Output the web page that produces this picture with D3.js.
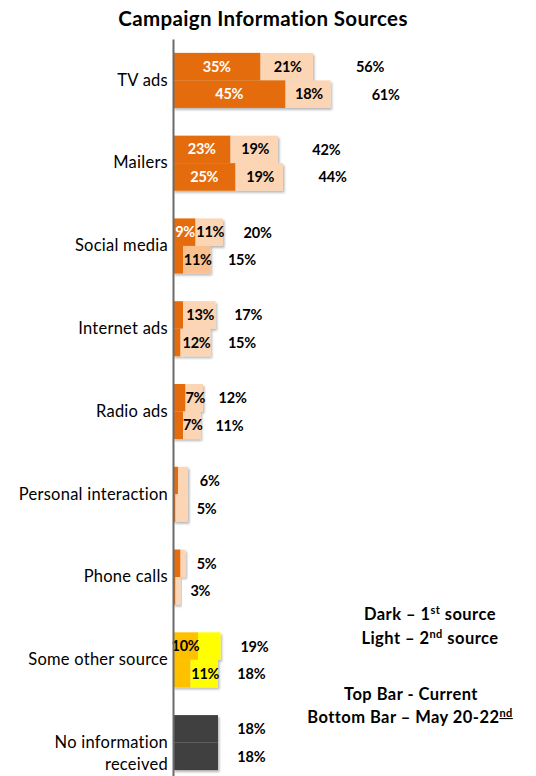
<!DOCTYPE html>
<html>
<head>
<meta charset="utf-8">
<script src="https://cdn.jsdelivr.net/npm/d3@7"></script>
<style>
  html, body { margin: 0; padding: 0; background: #fff; }
  svg { display: block; font-family: Lato, "Open Sans", sans-serif; }
</style>
</head>
<body>
<svg id="chart" width="536" height="776"></svg>
<script>
// ---------------- data ----------------
const categories = ["TV ads", "Mailers", "Social media", "Internet ads", "Radio ads",
  "Personal interaction", "Phone calls", "Some other source", "No information\nreceived"];
// Current (top bar)
const currentFirst  = [35, 23, 9, 4, 5, 2, 3, 10, 18];
const currentSecond = [21, 19, 11, 13, 7, 4, 2, 9, 0];
const currentTotal  = [56, 42, 20, 17, 12, 6, 5, 19, 18];
// May 20-22 (bottom bar)
const prevFirst  = [45, 25, 4, 3, 4, 1, 1, 7, 18];
const prevSecond = [18, 19, 11, 12, 7, 5, 2, 11, 0];
const prevTotal  = [61, 44, 15, 15, 11, 5, 3, 18, 18];
// which segment labels are shown in the picture (null = none)
const currentFirstLabel  = ["35%", "23%", "9%", null, null, null, null, "10%", null];
const currentSecondLabel = ["21%", "19%", "11%", "13%", "7%", null, null, null, null];
const prevFirstLabel  = ["45%", "25%", null, null, null, null, null, null, null];
const prevSecondLabel = ["18%", "19%", "11%", "12%", "7%", null, null, "11%", null];
const periods = ["Current", "May 20-22"];

// ---------------- styles ----------------
const darkColor = c => c === "Some other source" ? "#FFC000" : (c.startsWith("No information") ? "#404040" : "#E46C0A");
const lightColor = (c, p) => c === "Some other source" ? "#FFFF00" :
  (c === "Social media" && p === "May 20-22" ? "#FBC08F" : "#FCD5B5");
const darkTextColor = c => c === "Some other source" ? "#000" : "#fff";

const svg = d3.select("#chart");
const defs = svg.append("defs");
const f = defs.append("filter").attr("id", "shadow").attr("x", "-10%").attr("y", "-10%").attr("width", "130%").attr("height", "140%");
f.append("feDropShadow").attr("dx", 1.5).attr("dy", 2).attr("stdDeviation", 1.2).attr("flood-color", "#000").attr("flood-opacity", 0.28);

const x = d3.scaleLinear().domain([0, 100]).range([173, 423]);
const y = d3.scaleBand().domain(categories).range([39, 784]).paddingInner(0.335).paddingOuter(0.1675);
const y1 = d3.scaleBand().domain(periods).range([0, y.bandwidth()]);

// title
svg.append("text").attr("x", 263).attr("y", 26).attr("text-anchor", "middle")
  .attr("font-weight", "bold").attr("font-size", 20.5).attr("letter-spacing", 0.35).attr("fill", "#000")
  .text("Campaign Information Sources");

// rows
const rows = categories.map((c, i) => [
  { c, p: periods[0], a: currentFirst[i], b: currentSecond[i], t: currentTotal[i], la: currentFirstLabel[i], lb: currentSecondLabel[i] },
  { c, p: periods[1], a: prevFirst[i], b: prevSecond[i], t: prevTotal[i], la: prevFirstLabel[i], lb: prevSecondLabel[i] }
]).flat();

const g = svg.append("g");
const bar = g.selectAll("g.bar").data(rows).join("g").attr("class", "bar")
  .attr("transform", d => `translate(0,${y(d.c) + y1(d.p)})`);
const h = y1.bandwidth();

bar.append("g").attr("filter", "url(#shadow)").each(function (d) {
  const s = d3.select(this);
  s.append("rect").attr("x", x(0)).attr("y", 0).attr("width", x(d.a) - x(0)).attr("height", h).attr("fill", darkColor(d.c));
  if (d.b > 0) s.append("rect").attr("x", x(d.a)).attr("y", 0).attr("width", x(d.a + d.b) - x(d.a)).attr("height", h).attr("fill", lightColor(d.c, d.p));
});

// segment labels
bar.filter(d => d.la).append("text")
  .attr("x", d => Math.max((x(0) + x(d.a)) / 2, x(0) + 12)).attr("y", h / 2).attr("dy", "0.35em")
  .attr("text-anchor", "middle").attr("font-weight", "bold").attr("font-size", 14.5)
  .attr("fill", d => darkTextColor(d.c)).attr("letter-spacing", -0.3).text(d => d.la);
bar.filter(d => d.lb).append("text")
  .attr("x", d => (x(d.a) + x(d.a + d.b)) / 2 + 1).attr("y", h / 2).attr("dy", "0.35em")
  .attr("text-anchor", "middle").attr("font-weight", "bold").attr("font-size", 14.5)
  .attr("fill", "#000").attr("letter-spacing", -0.3).text(d => d.lb);

// totals
bar.append("text")
  .attr("x", d => x(d.t * 1.25) + 8).attr("y", h / 2).attr("dy", "0.38em")
  .attr("font-weight", "bold").attr("font-size", 14.5).attr("fill", "#000").attr("letter-spacing", -0.2)
  .text(d => d.t + "%");

// axis
const axis = svg.append("g").attr("transform", `translate(${x(0)},0)`)
  .call(d3.axisLeft(y).tickSize(0).tickPadding(5));
axis.select(".domain").attr("stroke", "#6b6b6b").attr("stroke-width", 2);
axis.selectAll(".tick text").attr("font-size", 16.5).attr("letter-spacing", 0.25).attr("fill", "#000")
  .attr("font-family", "Lato, 'Open Sans', sans-serif")
  .each(function (d) {
    const lines = d.split("\n");
    if (lines.length > 1) {
      const t = d3.select(this).text(null);
      lines.forEach((l, k) => t.append("tspan").attr("x", -5).attr("dy", k === 0 ? "0.32em" : "1.36em").text(l));
      t.attr("dy", null);
    }
  });

// legend notes
const notes = svg.append("g").attr("font-weight", "bold").attr("font-size", 16.5).attr("letter-spacing", 0.45)
  .attr("fill", "#000").attr("text-anchor", "middle");
const n1 = notes.append("text").attr("x", 430).attr("y", 620);
n1.append("tspan").text("Dark – 1");
n1.append("tspan").attr("font-size", 11).attr("dy", -6).text("st");
n1.append("tspan").attr("dy", 6).text(" source");
const n2 = notes.append("text").attr("x", 430).attr("y", 644);
n2.append("tspan").text("Light – 2");
n2.append("tspan").attr("font-size", 11).attr("dy", -6).text("nd");
n2.append("tspan").attr("dy", 6).text(" source");
notes.append("text").attr("x", 411).attr("y", 700).text("Top Bar - Current");
const n4 = notes.append("text").attr("x", 410).attr("y", 723);
n4.append("tspan").text("Bottom Bar – May 20-22");
n4.append("tspan").attr("font-size", 11).attr("dy", -6).attr("text-decoration", "underline").text("nd");
</script>
</body>
</html>
